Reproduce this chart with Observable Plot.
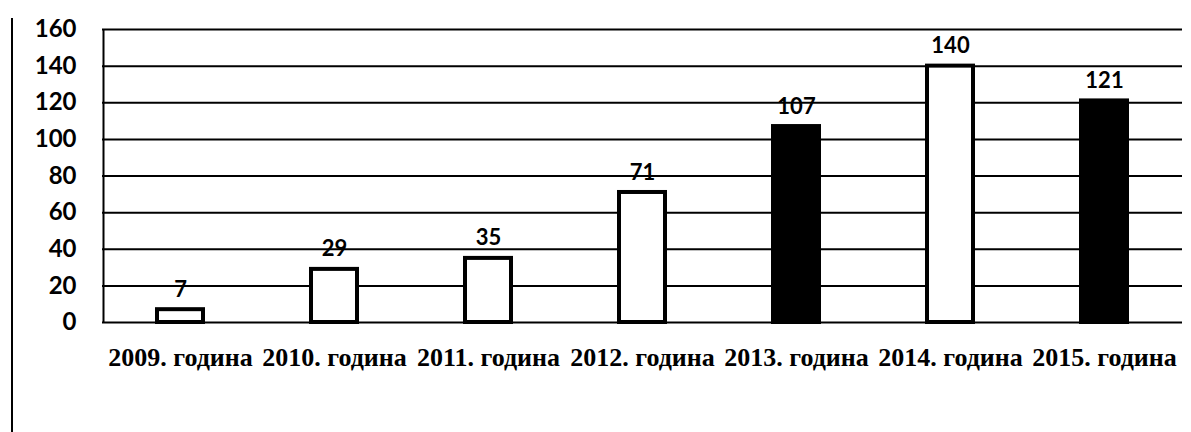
<!DOCTYPE html>
<html>
<head>
<meta charset="utf-8">
<script src="https://cdn.jsdelivr.net/npm/d3@7"></script>
<script src="https://cdn.jsdelivr.net/npm/@observablehq/plot@0.6"></script>
<style>
  html, body { margin: 0; padding: 0; background: #fff; }
  #wrap { position: relative; width: 1191px; height: 432px; overflow: hidden; }
  #edge { position: absolute; left: 11px; top: 18px; width: 0; height: 414px; border-left: 2px solid #000; }
</style>
</head>
<body>
<div id="wrap"><div id="edge"></div><div id="chart"></div></div>
<script>
const years = ["2009. година", "2010. година", "2011. година", "2012. година", "2013. година", "2014. година", "2015. година"];
const counts = [7, 29, 35, 71, 107, 140, 121];
const dark = [false, false, false, false, true, false, true];
const yTicks = [0, 20, 40, 60, 80, 100, 120, 140, 160];

const data = years.map((y, i) => ({year: y, value: counts[i], dark: dark[i]}));

const chart = Plot.plot({
  width: 1191,
  height: 432,
  marginLeft: 102,
  marginRight: 9,
  marginTop: 29,
  marginBottom: 110,
  style: {background: "#fff", color: "#000", overflow: "visible"},
  x: {domain: years, paddingInner: 0.70, paddingOuter: 0.35, label: null},
  y: {domain: [0, 160], label: null},
  marks: [
    Plot.ruleY(yTicks, {stroke: "#000", strokeWidth: 2}),
    Plot.ruleX([0], {x: () => years[0], dx: -77, y1: 0, y2: 160, stroke: "#000", strokeWidth: 2}),
    Plot.barY(data, {x: "year", y: "value", fill: d => d.dark ? "#000" : "#fff", stroke: "#000", strokeWidth: 4}),
    Plot.text(data, {x: "year", y: "value", text: d => String(d.value), dy: -20, fontSize: 22, fontWeight: "bold", fontFamily: "Lato, 'Open Sans', sans-serif", fill: "#000"}),
    Plot.axisY({ticks: yTicks, tickSize: 0, tickPadding: 26, fontSize: 24, fontWeight: "bold", fontFamily: "Lato, 'Open Sans', sans-serif", label: null}),
    Plot.axisX({tickSize: 0, tickPadding: 25, fontSize: 26, fontWeight: "bold", fontFamily: "'Liberation Serif', 'DejaVu Serif', serif", label: null})
  ]
});
document.getElementById("chart").appendChild(chart);
</script>
</body>
</html>
